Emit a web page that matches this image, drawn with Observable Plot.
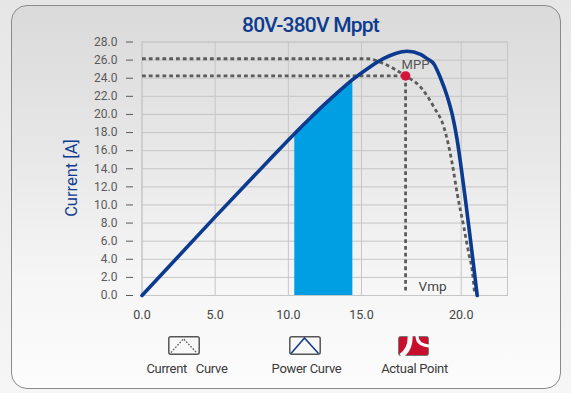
<!DOCTYPE html>
<html>
<head>
<meta charset="utf-8">
<script src="https://cdn.jsdelivr.net/npm/d3@7"></script>
<script src="https://cdn.jsdelivr.net/npm/@observablehq/plot@0.6"></script>
<style>
  html, body { margin:0; padding:0; width:571px; height:393px; overflow:hidden;
    background: linear-gradient(#e6e6e6, #f6f6f6); font-family: Roboto, "Noto Sans", sans-serif; }
  #panel { position:absolute; left:11px; top:5px; width:550px; height:384px; box-sizing:border-box;
    border:1px solid #8a8a8a; border-radius:16px;
    background: linear-gradient(#dadada 0%, #e8e8e8 40%, #f6f6f6 72%, #fcfcfc 100%); }
  #title { position:absolute; left:0; width:621px; top:15px; line-height:21px; text-align:center;
    font-size:21px; font-weight:500; color:#0d3b8e; letter-spacing:-0.8px; }
  #ylabel { position:absolute; left:72px; top:178px; transform: translate(-50%,-50%) rotate(-90deg);
    font-size:16.5px; line-height:16.5px; color:#0d3b8e; white-space:nowrap; }
  #chart { position:absolute; left:0; top:0; }
  .lg { position:absolute; top:362px; font-size:13px; line-height:14px; color:#3a3a3a; letter-spacing:-0.3px;
    white-space:pre; transform:translateX(-50%); }
  .ic { position:absolute; top:336px; }
</style>
</head>
<body>
<div id="panel"></div>
<div id="chart"></div>
<div id="title">80V-380V Mppt</div>
<div id="ylabel">Current [A]</div>

<svg class="ic" style="left:168px" width="32" height="19" viewBox="0 0 32 19">
  <rect x="0.8" y="0.8" width="30.4" height="17.4" rx="2" fill="#f8f8f8" stroke="#555" stroke-width="1.5"/>
  <polyline points="3,16.5 15.5,2.8 28.5,16.5" fill="none" stroke="#555" stroke-width="1.3" stroke-dasharray="1.6,1.6"/>
</svg>
<svg class="ic" style="left:289px" width="32" height="19" viewBox="0 0 32 19">
  <rect x="0.8" y="0.8" width="30.4" height="17.4" rx="2" fill="#f8f8f8" stroke="#555" stroke-width="1.5"/>
  <polyline points="2,17.5 15.5,2 29.5,17.5" fill="none" stroke="#1c3a8c" stroke-width="1.6"/>
</svg>
<svg class="ic" style="left:398px" width="31" height="20" viewBox="0 0 31 20">
  <rect x="0.5" y="0.5" width="30" height="19" rx="2" fill="#c8102e" stroke="#777" stroke-width="1"/>
  <path d="M 12 0 Q 13 13 3 20" fill="none" stroke="#fafafa" stroke-width="5"/>
  <path d="M 19 0 Q 19 9 31 10" fill="none" stroke="#fafafa" stroke-width="3"/>
</svg>
<div class="lg" style="left:187px">Current   Curve</div>
<div class="lg" style="left:306.5px">Power Curve</div>
<div class="lg" style="left:414.5px">Actual Point</div>

<script>
// ---- data (voltage in V, current in A) ----
const xTicks = [0, 5, 10, 15, 20];
const yTicks = [0, 2, 4, 6, 8, 10, 12, 14, 16, 18, 20, 22, 24, 26, 28];
// the original x axis is not uniform: 0..15 compressed, 15..end wider
const xBreaks = [0, 15, 22.32];

const powerV = [0, 4.95, 8.63, 10.44, 11.30, 12.14, 13.30, 14.41, 15.35, 16.12, 16.71, 17.29, 17.96, 18.31, 18.63, 18.96, 19.30, 19.56, 19.80, 20.07, 20.80];
const powerI = [0, 8.60, 14.86, 17.90, 19.28, 20.61, 22.33, 23.87, 25.14, 26.19, 26.74, 26.98, 26.63, 26.13, 25.58, 24.03, 21.99, 19.89, 17.13, 12.93, 0];

const currentV = [0, 15.29, 16.12, 17.21, 17.96, 18.63, 19.13, 19.55, 19.80, 20.13, 20.38, 20.55, 20.67];
const currentI = [26.15, 26.15, 25.60, 24.25, 23.02, 20.81, 18.60, 14.55, 11.24, 7.55, 4.61, 2.76, 0.22];

const mppV = 17.21, mppI = 24.25;
const fillFrom = 10.44, fillTo = 14.41;

const power = powerV.map((v, k) => ({v, i: powerI[k]}));
const current = currentV.map((v, k) => ({v, i: currentI[k]}));
const band = power.filter(d => d.v >= fillFrom && d.v <= fillTo);
const mpp = [{v: mppV, i: mppI}];
const hLine = [{v: 0, i: mppI}, {v: mppV, i: mppI}];
const vLine = [{v: mppV, i: mppI}, {v: mppV, i: 0.5}];

const dash = {stroke: "#5c5c5c", strokeWidth: 2.8, strokeDasharray: "3.8,3", strokeLinecap: "butt", strokeLinejoin: "miter"};

const chart = Plot.plot({
  width: 571, height: 330,
  marginTop: 41.5, marginBottom: 35, marginLeft: 141.5, marginRight: 64,
  style: {background: "transparent", fontFamily: "Roboto, sans-serif", fontSize: "12px", overflow: "visible"},
  x: {type: "linear", domain: xBreaks, range: [141.5, 361, 507]},
  y: {domain: [0, 28]},
  marks: [
    Plot.gridY(yTicks, {stroke: "#c6c6c6", strokeOpacity: 1}),
    Plot.gridX(xTicks, {stroke: "#c6c6c6", strokeOpacity: 1}),
    Plot.frame({stroke: "#c6c6c6"}),
    Plot.axisY(yTicks, {tickSize: 7, tickPadding: 9, dx: -8.5, tickFormat: d => d.toFixed(1), color: "#5a5a5a", label: null, fontSize: 12}),
    Plot.axisX(xTicks, {tickSize: 0, tickPadding: 15, tickFormat: d => d.toFixed(1), color: "#444", label: null, fontSize: 12.5}),
    Plot.areaY(band, {x: "v", y: "i", fill: "#009fe3", curve: "monotone-x"}),
    Plot.line(hLine, {x: "v", y: "i", ...dash}),
    Plot.line(vLine, {x: "v", y: "i", ...dash}),
    Plot.line(current, {x: "v", y: "i", curve: "monotone-x", ...dash}),
    Plot.line(power, {x: "v", y: "i", curve: "monotone-x", stroke: "#0b3a8f", strokeWidth: 3.6}),
    Plot.dot(mpp, {x: "v", y: "i", r: 4.8, fill: "#d4143a"}),
    Plot.text(mpp, {x: "v", y: "i", text: () => "MPP", dx: -4, dy: -11, textAnchor: "start", fontSize: 13, fill: "#555"}),
    Plot.text(mpp, {x: "v", y: () => 0, text: () => "Vmp", dx: 13, dy: -9, textAnchor: "start", fontSize: 13.5, fill: "#444"})
  ]
});
document.getElementById("chart").appendChild(chart);
</script>
</body>
</html>
